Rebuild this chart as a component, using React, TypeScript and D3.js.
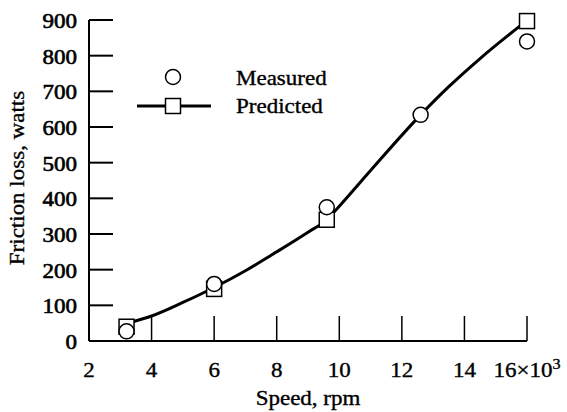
import React from "react";
import * as d3 from "d3";

// measured points (speed in 10^3 rpm, loss in watts)
const measuredSpeed = [3.2, 6.0, 9.6, 12.6, 16.0];
const measuredLoss = [27, 160, 375, 634, 840];

// predicted points
const predictedSpeed = [3.2, 6.0, 9.6, 16.0];
const predictedLoss = [40, 146, 340, 897];

// predicted curve
const curveSpeed = [3.4, 4, 5, 6, 7, 8, 9, 9.6, 10, 11, 12.6, 13.5, 14.5, 15.8];
const curveLoss = [54, 70, 108, 150, 197, 250, 305, 340, 378, 478, 634, 713, 792, 885];

const xTicks = [2, 4, 6, 8, 10, 12, 14, 16];
const yTicks = [0, 100, 200, 300, 400, 500, 600, 700, 800, 900];

const FONT = "'Liberation Serif', 'DejaVu Serif', serif";
const SX = 1.15; // the scan is stretched sideways

const W = 567;
const H = 412;

const Txt = ({ x, y, anchor = "start", size = 20, rotate = 0, heavy = 0.35, children }: any) => (
  <text
    transform={`translate(${x},${y}) rotate(${rotate}) scale(${SX},1)`}
    textAnchor={anchor}
    fontFamily={FONT}
    fontSize={size}
    fill="#000"
    stroke="#000"
    strokeWidth={heavy}
  >
    {children}
  </text>
);

export default function App() {
  const x = d3.scaleLinear().domain([2, 16]).range([89, 527]);
  const y = d3.scaleLinear().domain([0, 900]).range([341, 20]);

  const line = d3
    .line<number>()
    .x((d, i) => x(curveSpeed[i]))
    .y((d) => y(d))
    .curve(d3.curveMonotoneX);

  const sq = 15;
  return (
    <svg
      width={W}
      height={H}
      style={{ position: "absolute", left: 0, top: 0, background: "#fff" }}
    >
      {/* axes */}
      <line x1={x(2)} x2={x(16)} y1={y(0)} y2={y(0)} stroke="#000" strokeWidth={2} />
      <line x1={x(2)} x2={x(2)} y1={y(0)} y2={y(900)} stroke="#000" strokeWidth={2} />
      {yTicks.slice(1).map((t) => (
        <line key={t} x1={x(2)} x2={x(2) + 24} y1={y(t)} y2={y(t)} stroke="#000" strokeWidth={2} />
      ))}
      {xTicks.slice(1).map((t) => (
        <line key={t} x1={x(t)} x2={x(t)} y1={y(0)} y2={y(0) - 25} stroke="#000" strokeWidth={1.5} />
      ))}

      {/* tick labels */}
      {yTicks.map((t) => (
        <Txt key={t} x={77} y={y(t) + 8} anchor="end" heavy={0.6}>
          {t}
        </Txt>
      ))}
      {xTicks.map((t) =>
        t === 16 ? (
          <Txt key={t} x={x(t)} y={377} anchor="middle">
            16×10<tspan dy={-8} fontSize={14}>3</tspan>
          </Txt>
        ) : (
          <Txt key={t} x={x(t)} y={377} anchor="middle">
            {t}
          </Txt>
        )
      )}

      {/* axis titles */}
      <Txt x={308} y={405} anchor="middle">Speed, rpm</Txt>
      <Txt x={24} y={178} anchor="middle" rotate={-90}>Friction loss, watts</Txt>

      {/* predicted curve */}
      <path d={line(curveLoss) || ""} fill="none" stroke="#000" strokeWidth={3} />

      {/* predicted squares */}
      {predictedSpeed.map((s, i) => (
        <rect
          key={i}
          x={x(s) - sq / 2}
          y={y(predictedLoss[i]) - sq / 2}
          width={sq}
          height={sq}
          fill="#fff"
          stroke="#000"
          strokeWidth={1.5}
        />
      ))}

      {/* measured circles */}
      {measuredSpeed.map((s, i) => (
        <circle
          key={i}
          cx={x(s)}
          cy={y(measuredLoss[i])}
          r={7.5}
          fill="#fff"
          stroke="#000"
          strokeWidth={1.5}
        />
      ))}

      {/* legend */}
      <circle cx={173} cy={77} r={7.5} fill="#fff" stroke="#000" strokeWidth={1.5} />
      <Txt x={236} y={85}>Measured</Txt>
      <line x1={137} x2={211} y1={106} y2={106} stroke="#000" strokeWidth={3} />
      <rect x={173 - sq / 2} y={106 - sq / 2} width={sq} height={sq} fill="#fff" stroke="#000" strokeWidth={1.5} />
      <Txt x={236} y={113}>Predicted</Txt>
    </svg>
  );
}
